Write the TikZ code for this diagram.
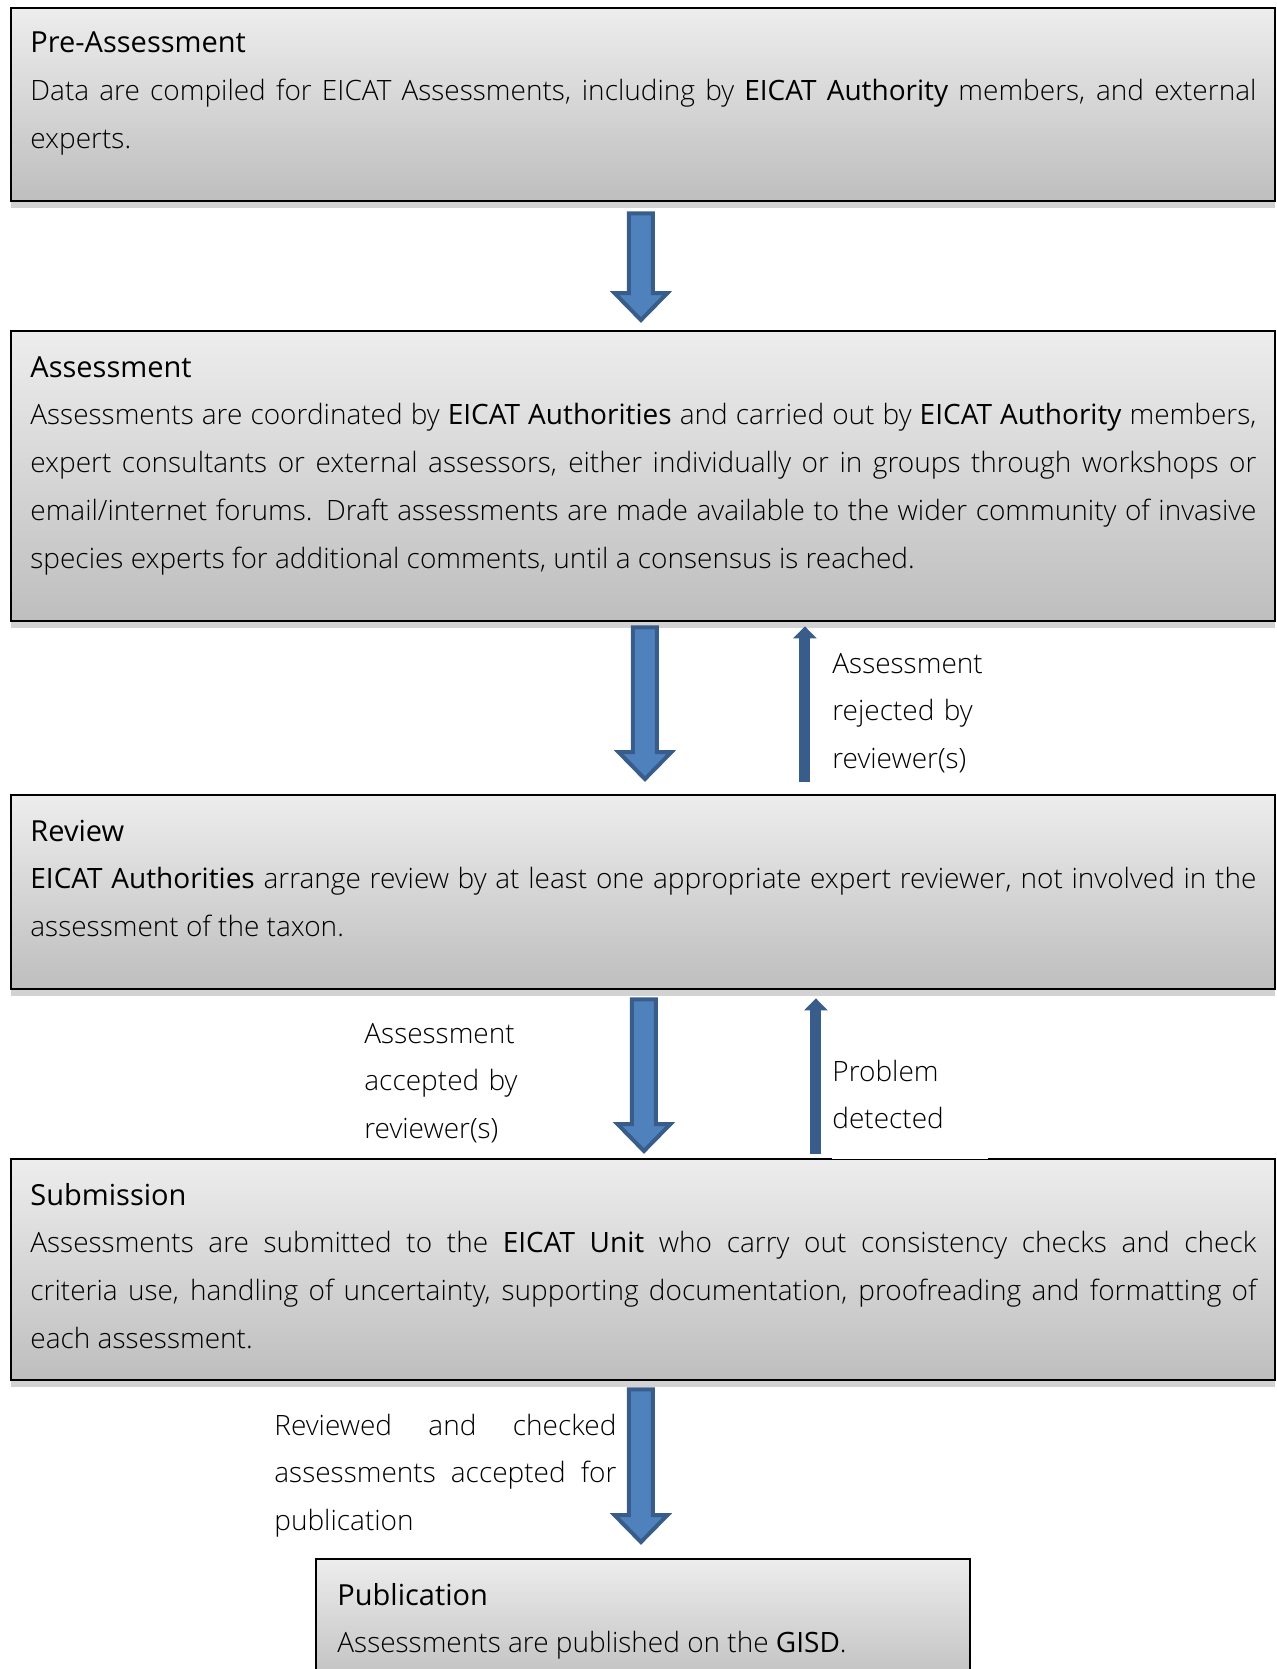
\documentclass[tikz,border=0pt]{standalone}
\usepackage{fontspec}
\setmainfont{Open Sans Light}[BoldFont={Open Sans}]
\usepackage{xcolor}
\usepackage{tikz}
\usetikzlibrary{positioning}
\usetikzlibrary{calc}
\usetikzlibrary{shadows}
\usetikzlibrary{arrows.meta}
\definecolor{boxtop}{HTML}{EDEDED}
\definecolor{boxbottom}{HTML}{BEBEBE}
\definecolor{shadowgray}{HTML}{D2D2D2}
\definecolor{arrowfill}{HTML}{4F81BD}
\definecolor{arrowline}{HTML}{385D8A}
\tikzset{
    stagebox/.style = {rectangle, draw=black, line width=1.2pt, top color=boxtop, bottom color=boxbottom, anchor=north west, inner sep=0pt, minimum width=632.25pt, general shadow={fill=shadowgray, shadow yshift=-3.5pt}},
    stagetext/.style = {anchor=base west, inner sep=0pt, text width=613pt, align=justify},
    sidetext/.style = {anchor=base west, inner sep=0pt, text width=100pt, align=left},
    flowarrow/.style = {draw=arrowline, fill=arrowfill, line width=2pt, line join=miter},
    backarrow/.style = {draw=arrowline, line width=5.5pt, -{Triangle[width=11.5pt,length=6pt]}}
}
\newcommand\stagehead[1]{{\fontsize{14.5pt}{23.9pt}\selectfont\textbf{#1}}\\}
\newcommand\flowarrow[2]{%
    \draw[flowarrow] let \p1=(#1), \p2=(#2) in
        (\x1-6pt,\y1) -- (\x1+6pt,\y1) -- (\x1+6pt,\y2+15pt) -- (\x1+13.25pt,\y2+15pt)
        -- (\x1,\y2+1.5pt) -- (\x1-13.25pt,\y2+15pt) -- (\x1-6pt,\y2+15pt) -- cycle;}
\begin{document}
\begin{tikzpicture}[x=0.5pt,y=-0.5pt,font=\fontsize{14pt}{23.9pt}\selectfont]
\useasboundingbox (0,0) rectangle (1276,1669);
\clip (0,0) rectangle (1276,1669);
\node[stagebox, minimum height=96.5pt] (pre) at (9.5,7) {};
\node[stagebox, minimum height=145pt] (assess) at (9.5,330) {};
\node[stagebox, minimum height=97pt] (review) at (9.5,794) {};
\node[stagebox, minimum height=110.5pt] (submit) at (9.5,1158) {};
\node[stagebox, minimum height=65pt, minimum width=327pt] (publ) at (315,1558) {};

\node[stagetext] (pretext) at ($(pre.north west)+(20.5,46)$)
    {\stagehead{Pre-Assessment}Data are compiled for EICAT Assessments, including by \textbf{EICAT Authority} members, and external\linebreak experts.};
\node[stagetext] (assesstext) at ($(assess.north west)+(20.5,47)$)
    {\stagehead{Assessment}Assessments are coordinated by \textbf{EICAT Authorities} and carried out by \textbf{EICAT Authority} members,\linebreak
    expert consultants or external assessors, either individually or in groups through workshops or\linebreak
    email/internet forums. Draft assessments are made available to the wider community of invasive\linebreak
    species experts for additional comments, until a consensus is reached.};
\node[stagetext] (reviewtext) at ($(review.north west)+(20.5,47)$)
    {\stagehead{Review}\textbf{EICAT Authorities} arrange review by at least one appropriate expert reviewer, not involved in the\linebreak
    assessment of the taxon.};
\node[stagetext] (submittext) at ($(submit.north west)+(20.5,47)$)
    {\stagehead{Submission}Assessments are submitted to the \textbf{EICAT Unit} who carry out consistency checks and check\linebreak
    criteria use, handling of uncertainty, supporting documentation, proofreading and formatting of\linebreak
    each assessment.};
\node[stagetext, text width=300pt] (publtext) at ($(publ.north west)+(22,47)$)
    {\stagehead{Publication}Assessments are published on the \textbf{GISD}.};

\flowarrow{$(pre.south)+(-2,11)$}{$(assess.north)+(-2,-7)$}
\flowarrow{$(assess.south)+(2,5)$}{$(review.north)+(2,-12)$}
\flowarrow{$(review.south)+(1,9)$}{$(submit.north)+(1,-4)$}
\flowarrow{$(submit.south)+(-2,8)$}{$(publ.north)+(-2,-13)$}

\draw[backarrow] ($(review.north)+(162,-12)$) -- ($(assess.south)+(162,4)$);
\draw[backarrow] ($(submit.north)+(173,-4)$) -- ($(review.south)+(173,8)$);

\node[sidetext] (rejectnote) at (832,673) {Assessment\\rejected by\\reviewer(s)};
\node[sidetext] (acceptnote) at (364,1043) {Assessment\\accepted by\\reviewer(s)};
\node[sidetext, text width=78pt, fill=white, inner ysep=14.9pt] (problemnote) at (832,1081) {Problem\\detected};
\node[stagetext, text width=171pt] (publishnote) at (274,1435)
    {Reviewed and checked\linebreak assessments accepted for\linebreak publication};
\end{tikzpicture}
\end{document}
